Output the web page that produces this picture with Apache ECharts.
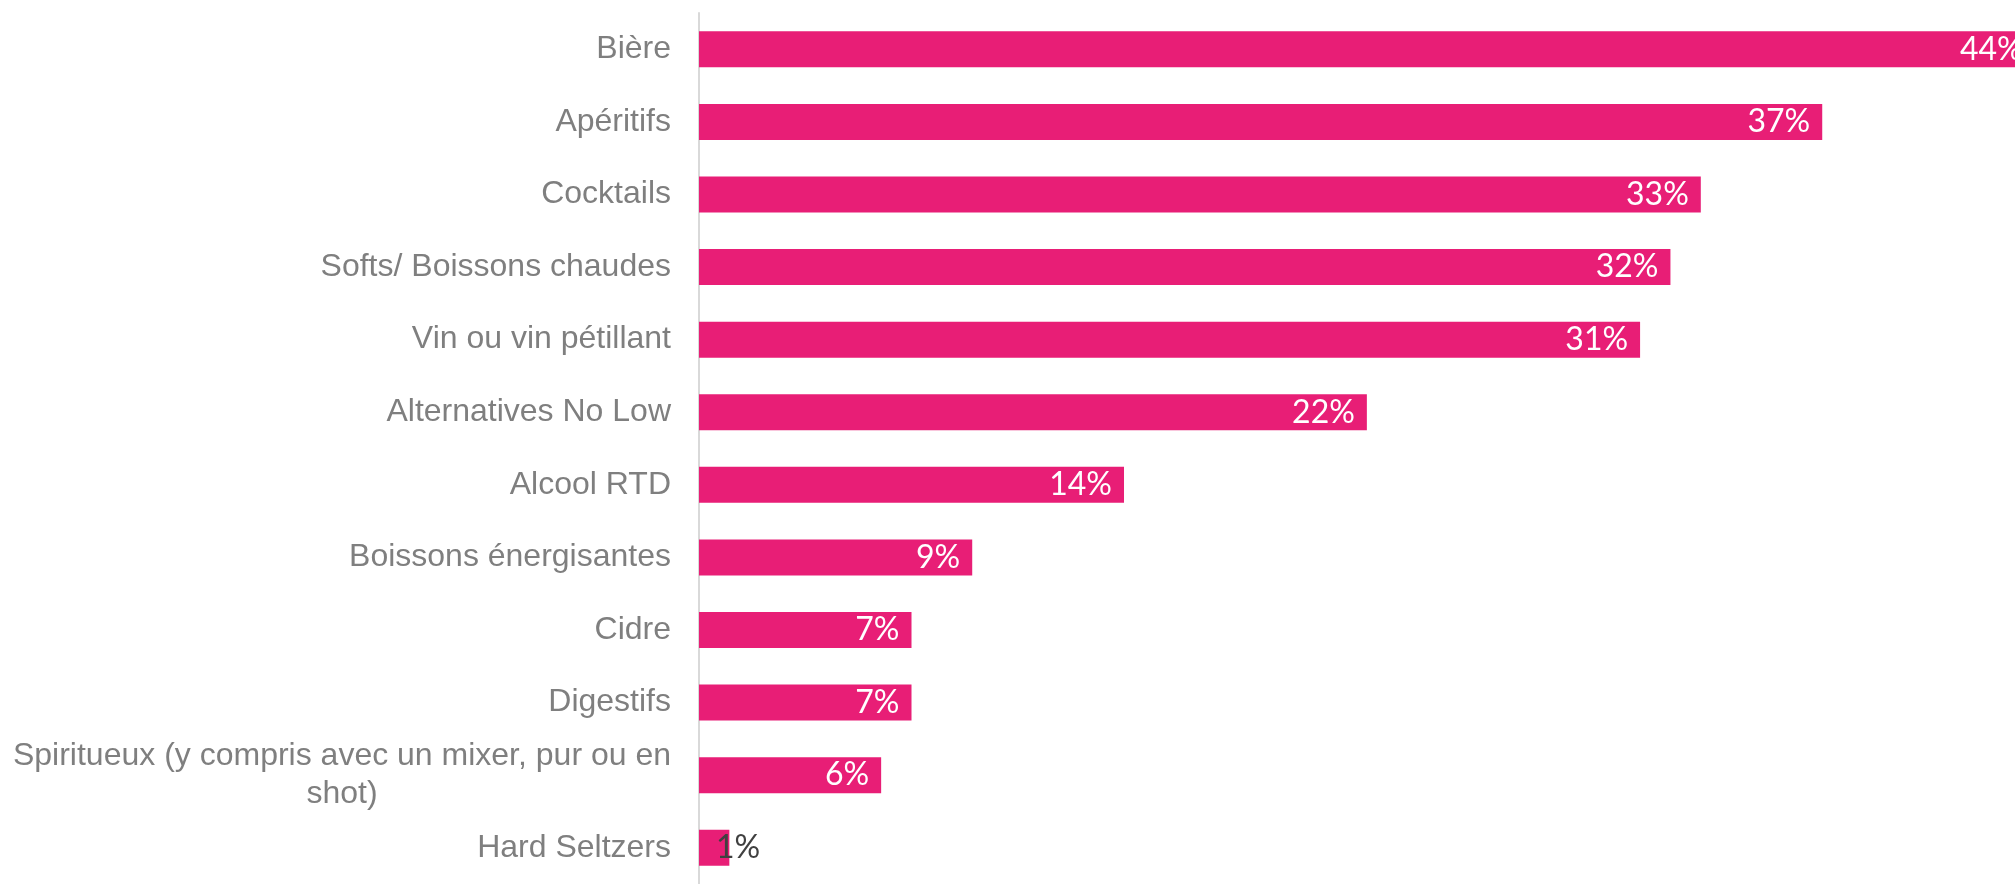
<!DOCTYPE html>
<html>
<head>
<meta charset="utf-8">
<script src="https://cdn.jsdelivr.net/npm/echarts@6/dist/echarts.min.js"></script>
<style>
  html, body { margin: 0; padding: 0; background: #ffffff; }
  #chart { width: 2015px; height: 884px; }
</style>
</head>
<body>
<div id="chart"></div>
<script>
// Drink categories, top to bottom
const categories = [
  'Bière',
  'Apéritifs',
  'Cocktails',
  'Softs/ Boissons chaudes',
  'Vin ou vin pétillant',
  'Alternatives No Low',
  'Alcool RTD',
  'Boissons énergisantes',
  'Cidre',
  'Digestifs',
  'Spiritueux (y compris avec un mixer, pur ou en\nshot)',
  'Hard Seltzers'
];

// Share of respondents (%)
const values = [44, 37, 33, 32, 31, 22, 14, 9, 7, 7, 6, 1];

const BAR_COLOR = '#E81E76';

const chart = echarts.init(document.getElementById('chart'), null, { renderer: 'canvas' });

const seriesData = values.map(function (v) {
  const item = { value: v };
  // The smallest bar is too short to hold its label: print it in dark grey over the bar start
  if (v < 3) {
    item.label = { position: 'insideLeft', distance: 17, color: '#404040' };
  }
  return item;
});

chart.setOption({
  animation: false,
  backgroundColor: '#ffffff',
  // Plot area runs to the right edge; the longest bar is allowed to run past it
  grid: { left: 699, top: 13, right: 0, height: 877, containLabel: false },
  xAxis: {
    type: 'value',
    min: 0,
    max: 43.35,
    show: false,
    splitLine: { show: false }
  },
  yAxis: {
    type: 'category',
    data: categories,
    inverse: true,
    axisLine: { show: true, lineStyle: { color: '#d9d9d9', width: 2 } },
    axisTick: { show: false },
    axisLabel: {
      margin: 28,
      fontFamily: 'Liberation Sans, Arial, sans-serif',
      fontSize: 32,
      color: '#7f7f7f',
      lineHeight: 38,
      formatter: function (val) {
        return val.split('\n').map(function (line) { return '{c|' + line + '}'; }).join('\n');
      },
      rich: {
        c: {
          align: 'center',
          fontFamily: 'Liberation Sans, Arial, sans-serif',
          fontSize: 32,
          color: '#7f7f7f',
          lineHeight: 38
        }
      }
    }
  },
  series: [{
    type: 'bar',
    data: seriesData,
    barWidth: 36,
    clip: false,
    itemStyle: { color: BAR_COLOR },
    label: {
      show: true,
      position: 'insideRight',
      distance: 12,
      formatter: '{c}%',
      color: '#ffffff',
      fontFamily: 'Lato, sans-serif',
      fontSize: 32
    }
  }]
});
</script>
</body>
</html>
